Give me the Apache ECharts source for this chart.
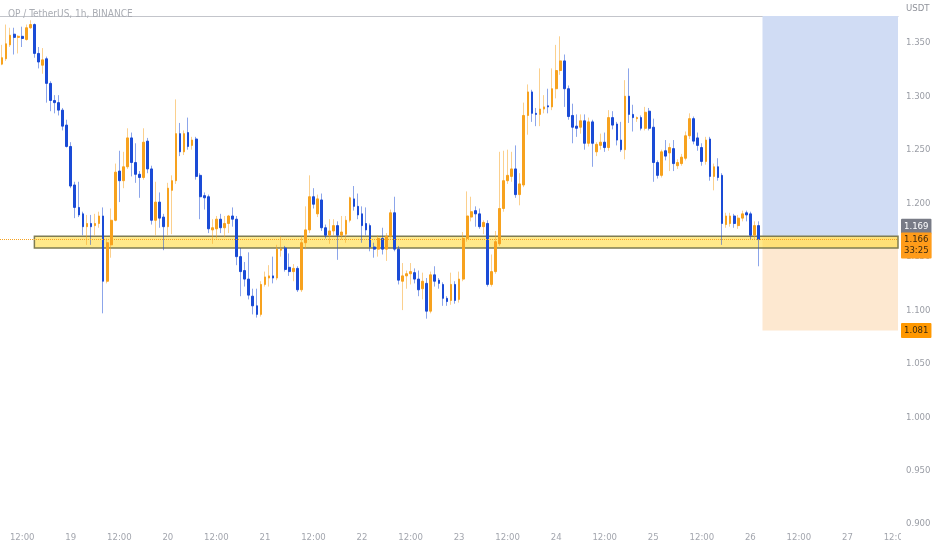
<!DOCTYPE html>
<html lang="en">
<head>
<meta charset="UTF-8">
<title>OP / TetherUS, 1h, BINANCE</title>
<script src="https://cdn.jsdelivr.net/npm/echarts/dist/echarts.min.js"></script>
<style>
  html, body { margin: 0; padding: 0; background: #fff; }
  #main { width: 932px; height: 550px; }
</style>
</head>
<body>
<div id="main"></div>
<script>
// hourly candles starting 18th 07:00 -> [open, close, low, high]
const candles = [
  [1.330,1.336,1.329,1.348],[1.335,1.349,1.333,1.367],[1.348,1.357,1.346,1.364],[1.358,1.355,1.339,1.364],
  [1.355,1.356,1.340,1.357],[1.356,1.354,1.346,1.365],[1.353,1.364,1.352,1.367],[1.364,1.367,1.363,1.371],
  [1.367,1.340,1.336,1.368],[1.340,1.332,1.326,1.346],[1.329,1.334,1.321,1.345],[1.335,1.312,1.294,1.337],
  [1.312,1.296,1.286,1.314],[1.296,1.294,1.284,1.301],[1.294,1.287,1.282,1.301],[1.287,1.272,1.268,1.289],
  [1.273,1.253,1.252,1.278],[1.253,1.216,1.214,1.257],[1.217,1.196,1.186,1.220],[1.196,1.189,1.187,1.220],
  [1.190,1.178,1.170,1.192],[1.178,1.181,1.161,1.189],[1.181,1.178,1.161,1.189],[1.179,1.181,1.170,1.190],
  [1.181,1.188,1.177,1.192],[1.188,1.127,1.097,1.196],[1.127,1.163,1.125,1.167],[1.161,1.184,1.149,1.195],
  [1.184,1.229,1.183,1.237],[1.230,1.221,1.201,1.249],[1.221,1.234,1.214,1.248],[1.234,1.261,1.232,1.270],
  [1.261,1.238,1.225,1.266],[1.238,1.227,1.219,1.256],[1.227,1.224,1.205,1.230],[1.224,1.257,1.222,1.270],
  [1.258,1.232,1.228,1.261],[1.232,1.184,1.180,1.235],[1.184,1.201,1.170,1.220],[1.201,1.186,1.177,1.210],
  [1.187,1.178,1.156,1.190],[1.178,1.214,1.170,1.219],[1.212,1.221,1.171,1.226],[1.221,1.265,1.218,1.297],
  [1.265,1.248,1.244,1.275],[1.248,1.265,1.245,1.268],[1.266,1.253,1.250,1.280],[1.254,1.259,1.250,1.262],
  [1.260,1.225,1.222,1.262],[1.226,1.206,1.185,1.228],[1.207,1.205,1.194,1.210],[1.206,1.176,1.172,1.208],
  [1.175,1.177,1.162,1.185],[1.176,1.185,1.167,1.188],[1.185,1.177,1.172,1.190],[1.177,1.181,1.168,1.188],
  [1.181,1.188,1.172,1.189],[1.188,1.185,1.178,1.196],[1.185,1.150,1.142,1.188],[1.150,1.136,1.113,1.158],
  [1.137,1.129,1.122,1.145],[1.129,1.114,1.110,1.154],[1.113,1.104,1.096,1.120],[1.104,1.096,1.093,1.120],
  [1.096,1.124,1.094,1.127],[1.124,1.131,1.122,1.136],[1.130,1.132,1.122,1.142],[1.132,1.130,1.125,1.150],
  [1.130,1.157,1.128,1.161],[1.156,1.157,1.150,1.169],[1.158,1.138,1.136,1.160],[1.140,1.136,1.132,1.153],
  [1.136,1.139,1.127,1.143],[1.139,1.119,1.117,1.141],[1.119,1.163,1.117,1.169],[1.163,1.175,1.157,1.197],
  [1.175,1.206,1.172,1.226],[1.206,1.199,1.195,1.214],[1.190,1.204,1.187,1.208],[1.203,1.177,1.174,1.209],
  [1.177,1.170,1.167,1.180],[1.170,1.174,1.162,1.185],[1.174,1.179,1.170,1.185],[1.179,1.170,1.147,1.183],
  [1.170,1.173,1.166,1.188],[1.171,1.184,1.163,1.188],[1.184,1.205,1.182,1.206],[1.204,1.197,1.193,1.216],
  [1.197,1.189,1.185,1.209],[1.190,1.179,1.163,1.197],[1.181,1.175,1.170,1.196],[1.179,1.159,1.155,1.181],
  [1.159,1.157,1.149,1.163],[1.157,1.167,1.150,1.170],[1.167,1.157,1.152,1.177],[1.157,1.169,1.146,1.172],
  [1.169,1.191,1.167,1.194],[1.191,1.157,1.155,1.206],[1.157,1.128,1.124,1.160],[1.127,1.132,1.100,1.144],
  [1.132,1.134,1.120,1.137],[1.134,1.136,1.124,1.144],[1.135,1.129,1.125,1.139],[1.129,1.119,1.113,1.137],
  [1.120,1.127,1.110,1.135],[1.125,1.099,1.092,1.130],[1.099,1.133,1.097,1.136],[1.133,1.127,1.122,1.141],
  [1.128,1.125,1.120,1.130],[1.124,1.111,1.104,1.126],[1.111,1.108,1.104,1.113],[1.109,1.124,1.105,1.135],
  [1.124,1.109,1.106,1.127],[1.110,1.129,1.107,1.136],[1.129,1.167,1.127,1.173],[1.167,1.188,1.164,1.211],
  [1.187,1.192,1.183,1.206],[1.193,1.190,1.178,1.197],[1.190,1.178,1.176,1.195],[1.178,1.182,1.171,1.184],
  [1.181,1.124,1.122,1.184],[1.124,1.136,1.122,1.152],[1.136,1.164,1.134,1.174],[1.162,1.195,1.160,1.248],
  [1.195,1.221,1.192,1.249],[1.221,1.226,1.218,1.250],[1.225,1.232,1.220,1.248],[1.232,1.208,1.205,1.254],
  [1.208,1.218,1.198,1.228],[1.217,1.282,1.215,1.294],[1.282,1.304,1.264,1.311],[1.304,1.284,1.276,1.306],
  [1.284,1.283,1.272,1.289],[1.283,1.288,1.272,1.326],[1.288,1.290,1.284,1.301],[1.291,1.290,1.284,1.307],
  [1.290,1.307,1.287,1.326],[1.307,1.324,1.298,1.348],[1.324,1.333,1.320,1.356],[1.333,1.307,1.290,1.339],
  [1.307,1.281,1.278,1.310],[1.282,1.271,1.256,1.293],[1.272,1.270,1.262,1.283],[1.271,1.277,1.265,1.283],
  [1.277,1.256,1.250,1.283],[1.256,1.276,1.253,1.280],[1.276,1.256,1.234,1.278],[1.248,1.255,1.244,1.257],
  [1.254,1.257,1.250,1.265],[1.257,1.252,1.248,1.266],[1.252,1.280,1.249,1.287],[1.280,1.273,1.269,1.286],
  [1.274,1.259,1.254,1.276],[1.259,1.250,1.248,1.276],[1.250,1.300,1.241,1.315],[1.300,1.283,1.275,1.326],
  [1.283,1.280,1.267,1.292],[1.279,1.280,1.276,1.281],[1.280,1.270,1.268,1.282],[1.270,1.285,1.268,1.290],
  [1.286,1.270,1.268,1.289],[1.271,1.238,1.220,1.279],[1.238,1.226,1.223,1.240],[1.226,1.248,1.224,1.250],
  [1.249,1.244,1.240,1.259],[1.247,1.252,1.230,1.256],[1.251,1.237,1.230,1.259],[1.235,1.238,1.232,1.241],
  [1.237,1.243,1.235,1.246],[1.242,1.263,1.240,1.267],[1.263,1.279,1.260,1.284],[1.279,1.258,1.255,1.281],
  [1.261,1.254,1.249,1.266],[1.252,1.239,1.235,1.256],[1.239,1.259,1.236,1.262],[1.260,1.225,1.221,1.262],
  [1.225,1.234,1.212,1.237],[1.234,1.224,1.221,1.242],[1.226,1.181,1.161,1.228],[1.180,1.188,1.177,1.191],
  [1.181,1.188,1.178,1.191],[1.188,1.181,1.177,1.190],[1.179,1.186,1.176,1.189],[1.186,1.190,1.183,1.193],
  [1.191,1.189,1.183,1.193],[1.190,1.170,1.166,1.192],[1.170,1.179,1.166,1.183],[1.179,1.166,1.141,1.183]
];

// time axis: first slot is 18th 07:00, one slot per hour incl. empty future
const startDay = 18;
const startHour = 7;
const slotCount = 222;

// price scale
const priceMin = 0.9;
const priceMax = 1.375;
const priceStep = 0.05;

// drawings
const supportBand = [1.158, 1.169];
const bandStartSlot = 8;
const positionStartSlot = 188;
const entryPrice = 1.169;
const targetPrice = 1.375;
const stopPrice = 1.081;
const lastPrice = 1.166;
const countdown = '33:25';

const UP = '#f7a21e', DOWN = '#1a4bd6';
const UP_WICK = 'rgba(247,162,30,0.5)', DOWN_WICK = 'rgba(26,75,214,0.5)';
const NARROW = '"Liberation Sans Narrow", "DejaVu Sans Condensed", Roboto, sans-serif';

const categories = [];
for (let i = 0; i < slotCount; i++) {
  const h = startHour + i;
  const day = startDay + Math.floor(h / 24);
  categories.push(day + ' ' + String(h % 24).padStart(2, '0') + ':00');
}
const bodies = candles.map(c => [c[0], c[1], Math.min(c[0], c[1]), Math.max(c[0], c[1])]);

const priceLabel = (bg, fg) => ({
  show: true,
  position: 'end',
  distance: 3,
  backgroundColor: bg,
  color: fg,
  padding: [2, 3],
  fontFamily: NARROW,
  fontSize: 9.5,
  lineHeight: 11,
  borderRadius: 1
});

const option = {
  animation: false,
  backgroundColor: '#fff',
  title: {
    text: 'OP / TetherUS, 1h, BINANCE',
    left: 3,
    top: 4,
    textStyle: { fontSize: 10, fontWeight: 'normal', color: '#a9acb3', fontFamily: NARROW }
  },
  grid: { left: 0, right: 34, top: 16, bottom: 26, outerBoundsMode: 'none' },
  xAxis: [{
    type: 'category',
    data: categories,
    boundaryGap: true,
    axisLine: { show: false },
    axisTick: { show: false },
    splitLine: { show: false },
    axisLabel: {
      interval: i => (startHour + i) % 12 === 0,
      formatter: v => v.endsWith(' 00:00') ? v.split(' ')[0] : v.split(' ')[1],
      color: '#a3a6ae',
      fontSize: 9.5,
      fontFamily: NARROW,
      margin: 9,
      hideOverlap: false
    }
  }, {
    type: 'category',
    data: categories,
    position: 'top',
    axisLine: { show: true, lineStyle: { color: '#c3c5cb', width: 1 } },
    axisTick: { show: false },
    axisLabel: { show: false },
    splitLine: { show: false }
  }],
  yAxis: {
    type: 'value',
    position: 'right',
    min: priceMin,
    max: priceMax,
    interval: priceStep,
    scale: true,
    name: 'USDT',
    nameLocation: 'end',
    nameGap: 2,
    nameTextStyle: { color: '#8f929a', fontSize: 9.5, fontFamily: NARROW, align: 'left', padding: [0, 0, 0, 8] },
    axisLine: { show: false },
    axisTick: { show: false },
    splitLine: { show: false },
    axisLabel: {
      formatter: v => v.toFixed(3),
      showMaxLabel: false,
      color: '#9a9da5',
      fontSize: 9.5,
      fontFamily: NARROW,
      margin: 8
    }
  },
  series: [
    {
      // long position tool zones + last price line
      type: 'line',
      data: [],
      z: 1,
      markArea: {
        silent: true,
        data: [
          [{ xAxis: categories[positionStartSlot], yAxis: entryPrice, itemStyle: { color: '#d0dcf4' } }, { yAxis: targetPrice }],
          [{ xAxis: categories[positionStartSlot], yAxis: stopPrice, itemStyle: { color: '#fde8d0' } }, { yAxis: entryPrice }]
        ]
      },
      markLine: {
        silent: true,
        precision: 3,
        symbol: ['none', 'none'],
        data: [
          { yAxis: entryPrice, lineStyle: { color: 'transparent', width: 0 },
            label: Object.assign(priceLabel('#787b86', '#ffffff'), { formatter: p => p.value.toFixed(3), offset: [0, -10] }) },
          { yAxis: lastPrice, lineStyle: { color: UP, type: 'dotted', width: 1 },
            label: Object.assign(priceLabel('#ff9c1a', '#3b2a10'), { formatter: p => p.value.toFixed(3) + '\n' + countdown, offset: [0, 6] }) },
          { yAxis: stopPrice, lineStyle: { color: 'transparent', width: 0 },
            label: Object.assign(priceLabel('#ff9800', '#3b2a10'), { formatter: p => p.value.toFixed(3) }) }
        ]
      }
    },
    {
      // support band, under the candles
      type: 'line',
      data: [],
      z: 2,
      markArea: {
        silent: true,
        itemStyle: { color: 'rgba(255,218,60,0.6)', borderColor: '#7f7c52', borderWidth: 1.5 },
        data: [[{ xAxis: categories[bandStartSlot], yAxis: supportBand[0] }, { yAxis: supportBand[1] }]]
      }
    },
    {
      // wicks
      type: 'candlestick',
      data: candles,
      barWidth: 1,
      z: 3,
      itemStyle: { color: UP_WICK, color0: DOWN_WICK, borderColor: UP_WICK, borderColor0: DOWN_WICK, borderWidth: 1 }
    },
    {
      // bodies
      type: 'candlestick',
      data: bodies,
      barWidth: 2.2,
      z: 4,
      itemStyle: { color: UP, color0: DOWN, borderColor: UP, borderColor0: DOWN, borderWidth: 1 }
    }
  ],
  graphic: [{
    type: 'rect',
    right: 0,
    bottom: 0,
    z: 100,
    shape: { width: 31, height: 19 },
    style: { fill: '#fff' }
  }]
};

const chart = echarts.init(document.getElementById('main'));
chart.setOption(option);
</script>
</body>
</html>
